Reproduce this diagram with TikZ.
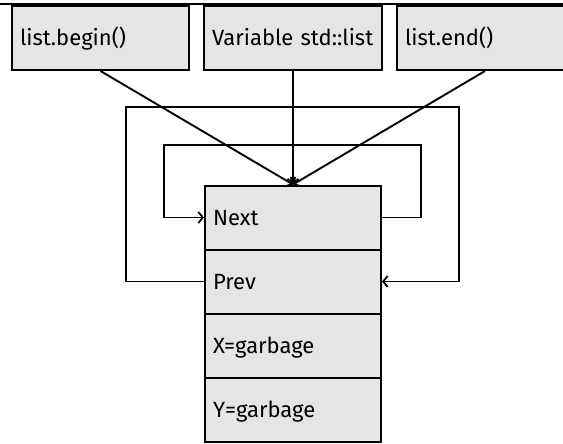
\documentclass[tikz,border=0pt]{standalone}
\usepackage{fontspec}
\setmainfont{Fira Sans}
\usetikzlibrary{arrows.meta}
\begin{document}
\begin{tikzpicture}[x=1pt,y=-1pt,
  cell/.style={draw=black, line width=2pt, fill=black!10, font=\fontsize{22}{26}\selectfont,
    text width=#1, align=left, inner xsep=8pt, inner ysep=0pt, minimum height=64pt,
    text height=16pt, text depth=0pt},
  cell/.default=160pt,
  link/.style={line width=1.9pt, -{Straight Barb[length=4.5pt,width=11pt,line width=1.8pt]}},
  wire/.style={line width=1.9pt}]
\useasboundingbox (0,0) rectangle (563,444);
\draw[wire] (0,4) -- (563,4);
\node[cell=161pt] (b1) at (100.5,38) {list.begin()};
\node[cell=162pt] (var) at (293,38) {Variable std::list};
\node[cell=160pt] (e1) at (485,38) {list.end()};
\node[cell] (next) at (293,217.5) {Next};
\node[cell] (prev) at (293,281.5) {Prev};
\node[cell] (xg) at (293,345.5) {X=garbage};
\node[cell] (yg) at (293,409.5) {Y=garbage};
\draw[link] (b1.south) -- (next.north);
\draw[link] (var.south) -- (next.north);
\draw[link] (e1.south) -- (next.north);
\draw[link] (next.east) -- (421,217.5) -- (421,145) -- (164,145) -- (164,217.5) -- (next.west);
\draw[link] (prev.west) -- (126,281.5) -- (126,107) -- (459,107) -- (459,281.5) -- (prev.east);
\end{tikzpicture}
\end{document}
